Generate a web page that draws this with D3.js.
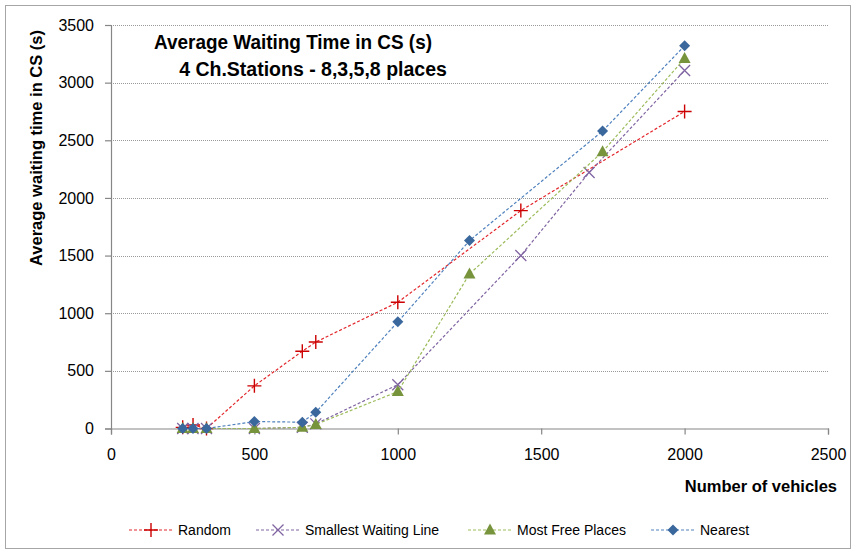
<!DOCTYPE html>
<html><head><meta charset="utf-8">
<script src="https://cdn.jsdelivr.net/npm/d3@7"></script>
<style>
html,body{margin:0;padding:0;background:#fff;}
svg{display:block;font-family:"Liberation Sans",Arial,sans-serif;}
</style></head>
<body>
<svg id="c" width="856" height="554"></svg>
<script>
// ---- data ----
const xTicks = [0, 500, 1000, 1500, 2000, 2500];
const yTicks = [0, 500, 1000, 1500, 2000, 2500, 3000, 3500];

const randomX   = [250, 286, 333, 500, 667, 714, 1000, 1429, 2000];
const randomY   = [10, 30, 0, 370, 670, 750, 1095, 1890, 2750];

const smallestX = [250, 286, 333, 500, 667, 714, 1000, 1429, 1667, 2000];
const smallestY = [0, 0, 0, 0, 10, 40, 380, 1500, 2220, 3105];

const mostFreeX = [250, 286, 333, 500, 667, 714, 1000, 1250, 1714, 2000];
const mostFreeY = [0, 0, 0, 0, 10, 35, 320, 1340, 2400, 3210];

const nearestX  = [250, 286, 333, 500, 667, 714, 1000, 1250, 1714, 2000];
const nearestY  = [0, 0, 0, 60, 55, 140, 925, 1630, 2580, 3320];

const seriesNames = ["Random", "Smallest Waiting Line", "Most Free Places", "Nearest"];
const titleText = "Average Waiting Time in CS (s)";
const subtitleText = "4 Ch.Stations - 8,3,5,8 places";
const xTitle = "Number of vehicles";
const yTitle = "Average waiting time in CS (s)";

// ---- build ----
const series = [
  {name: seriesNames[0], xs: randomX, ys: randomY, line: "#e3262b", mark: "#cc0000", shape: "plus"},
  {name: seriesNames[1], xs: smallestX, ys: smallestY, line: "#8064a2", mark: "#8064a2", shape: "cross"},
  {name: seriesNames[2], xs: mostFreeX, ys: mostFreeY, line: "#9bbb59", mark: "#77933c", shape: "tri"},
  {name: seriesNames[3], xs: nearestX, ys: nearestY, line: "#4f81bd", mark: "#3a679c", shape: "diamond"}
];

const svg = d3.select("#c");
const x = d3.scaleLinear().domain([0, 2500]).range([111, 828]);
const y = d3.scaleLinear().domain([0, 3500]).range([428.5, 25]);

// outer border
svg.append("rect").attr("x", 5.5).attr("y", 5.5).attr("width", 845).attr("height", 543)
  .attr("fill", "none").attr("stroke", "#a6a6a6").attr("stroke-width", 1);

// gridlines
svg.append("g").selectAll("line").data(yTicks.filter(d => d > 0)).join("line")
  .attr("x1", x(0)).attr("x2", x(2500))
  .attr("y1", d => Math.round(y(d)) + 0.5).attr("y2", d => Math.round(y(d)) + 0.5)
  .attr("stroke", "#9a9a9a").attr("stroke-width", 1).attr("stroke-dasharray", "1,1");

// axes
const yAxis = svg.append("g").attr("transform", "translate(111,0)")
  .call(d3.axisLeft(y).tickValues(yTicks).tickFormat(d3.format("d")).tickSize(6).tickPadding(11));
const xAxis = svg.append("g").attr("transform", "translate(0,428.5)")
  .call(d3.axisBottom(x).tickValues(xTicks).tickFormat(d3.format("d")).tickSize(6).tickPadding(14));
[yAxis, xAxis].forEach(g => {
  g.selectAll("path,line").attr("stroke", "#868686").attr("stroke-width", 1.2);
  g.selectAll("text").attr("fill", "#000").style("font-size", "16px")
    .style("font-family", "'Liberation Sans',Arial,sans-serif");
});

// marker drawing
function marker(g, shape, color, cx, cy) {
  if (shape === "plus") {
    g.append("path").attr("d", `M${cx-7},${cy}H${cx+7}M${cx},${cy-7}V${cy+7}`)
      .attr("stroke", color).attr("stroke-width", 1.4).attr("fill", "none");
  } else if (shape === "cross") {
    g.append("path").attr("d", `M${cx-5.5},${cy-5.5}L${cx+5.5},${cy+5.5}M${cx-5.5},${cy+5.5}L${cx+5.5},${cy-5.5}`)
      .attr("stroke", color).attr("stroke-width", 1.3).attr("fill", "none");
  } else if (shape === "tri") {
    g.append("path").attr("d", `M${cx},${cy-6.5}L${cx+6},${cy+4.5}L${cx-6},${cy+4.5}Z`)
      .attr("fill", color);
  } else {
    g.append("path").attr("d", `M${cx},${cy-5.5}L${cx+5.5},${cy}L${cx},${cy+5.5}L${cx-5.5},${cy}Z`)
      .attr("fill", color);
  }
}

const line = d3.line().x(d => x(d[0])).y(d => y(d[1]));
series.forEach(s => {
  const pts = s.xs.map((v, i) => [v, s.ys[i]]);
  const g = svg.append("g");
  g.append("path").datum(pts).attr("d", line).attr("fill", "none")
    .attr("stroke", s.line).attr("stroke-width", 1.2).attr("stroke-dasharray", "3,2");
  pts.forEach(p => marker(g, s.shape, s.mark, x(p[0]), y(p[1])));
});

// titles
svg.append("text").attr("x", 293).attr("y", 49).attr("text-anchor", "middle")
  .style("font-size", "21px").style("font-weight", "bold")
  .attr("textLength", 278).attr("lengthAdjust", "spacingAndGlyphs").text(titleText);
svg.append("text").attr("x", 313).attr("y", 76).attr("text-anchor", "middle")
  .style("font-size", "19.5px").style("font-weight", "bold").text(subtitleText);

svg.append("text").attr("x", 837).attr("y", 492).attr("text-anchor", "end")
  .style("font-size", "16.5px").style("font-weight", "bold").text(xTitle);
svg.append("text").attr("transform", "translate(42,148) rotate(-90)").attr("text-anchor", "middle")
  .style("font-size", "16.5px").style("font-weight", "bold").text(yTitle);

// legend
const legendX = [129, 256, 468, 651];
series.forEach((s, i) => {
  const g = svg.append("g");
  const x0 = legendX[i];
  g.append("line").attr("x1", x0).attr("x2", x0 + 44).attr("y1", 530).attr("y2", 530)
    .attr("stroke", s.line).attr("stroke-width", 1.2).attr("stroke-dasharray", "3,2");
  marker(g, s.shape, s.mark, x0 + 22, 530);
  g.append("text").attr("x", x0 + 49).attr("y", 535).style("font-size", "14px").text(s.name);
});
</script>
</body></html>
